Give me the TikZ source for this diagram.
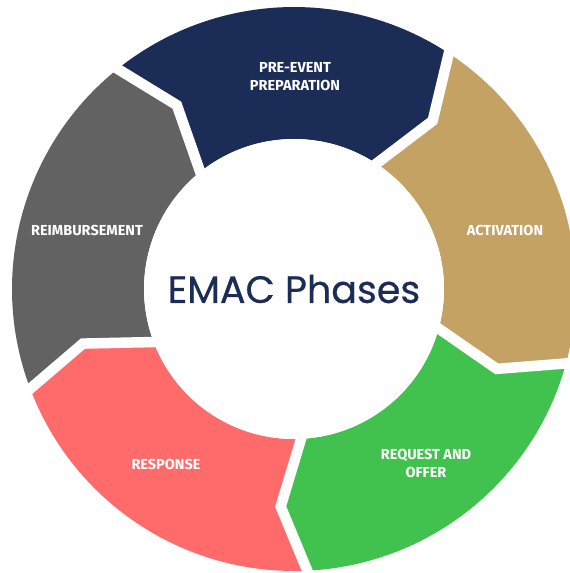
\documentclass[tikz,border=0pt]{standalone}
\usepackage{fontspec}
\setmainfont{Fira Sans}
\newfontfamily\titlefont[FakeBold=0.6]{Poppins}
\newfontfamily\phasefont{Fira Sans}
\usetikzlibrary{calc}

\definecolor{emacnavy}{RGB}{27,45,87}
\definecolor{emactan}{RGB}{196,162,100}
\definecolor{emacgreen}{RGB}{65,193,78}
\definecolor{emacred}{RGB}{255,107,107}
\definecolor{emacgray}{RGB}{98,98,98}

\begin{document}
\begin{tikzpicture}[x=1pt,y=1pt,
  phase/.style={text=white, align=center,
    font=\phasefont\bfseries\fontsize{14.5}{18}\selectfont},
  gapline/.style={draw=white, line width=10.5pt, line cap=rect, line join=miter},
  hub/.style={circle, fill=white, minimum size=300pt, inner sep=0pt,
    text=emacnavy, font=\titlefont\fontsize{38}{44}\selectfont}]
\useasboundingbox (-294,-284) rectangle (276,289);

% ring radii and the angular reach of each chevron point
\def\Rout{282pt}
\def\Rin{150pt}
\def\Rmid{218pt}
\def\tip{6.2}

% five ring segments, clockwise, each with a point at its trailing end
\foreach \s/\col in {128.7/emacnavy, 56.7/emactan, -15.3/emacgreen,
                     -87.3/emacred, -159.3/emacgray}{
  \pgfmathsetmacro\e{\s-72}
  \pgfmathsetmacro\sp{\s-\tip}
  \pgfmathsetmacro\ep{\e-\tip}
  \fill[\col] (\s:\Rout) arc[start angle=\s, end angle=\e, radius=\Rout]
    -- (\ep:\Rmid) -- (\e:\Rin)
    arc[start angle=\e, end angle=\s, radius=\Rin]
    -- (\sp:\Rmid) -- cycle;
}

% white gaps between neighbouring segments
\foreach \s in {128.7, 56.7, -15.3, -87.3, -159.3}{
  \pgfmathsetmacro\sp{\s-\tip}
  \coordinate (go) at (\s:\Rout);
  \coordinate (gm) at (\sp:\Rmid);
  \coordinate (gi) at (\s:\Rin);
  \draw[gapline] (go) -- (gm) -- (gi);
}

% centre hub
\node[hub] (hub) at (0,0) {EMAC Phases};

% phase labels
\node[phase] (pre)  at (1,212)     {PRE-EVENT\\PREPARATION};
\node[phase] (act)  at (211,59)    {ACTIVATION};
\node[phase] (req)  at (132,-174)  {REQUEST AND\\OFFER};
\node[phase] (resp) at (-128,-175) {RESPONSE};
\node[phase] (reim) at (-207,59)   {REIMBURSEMENT};
\end{tikzpicture}
\end{document}
